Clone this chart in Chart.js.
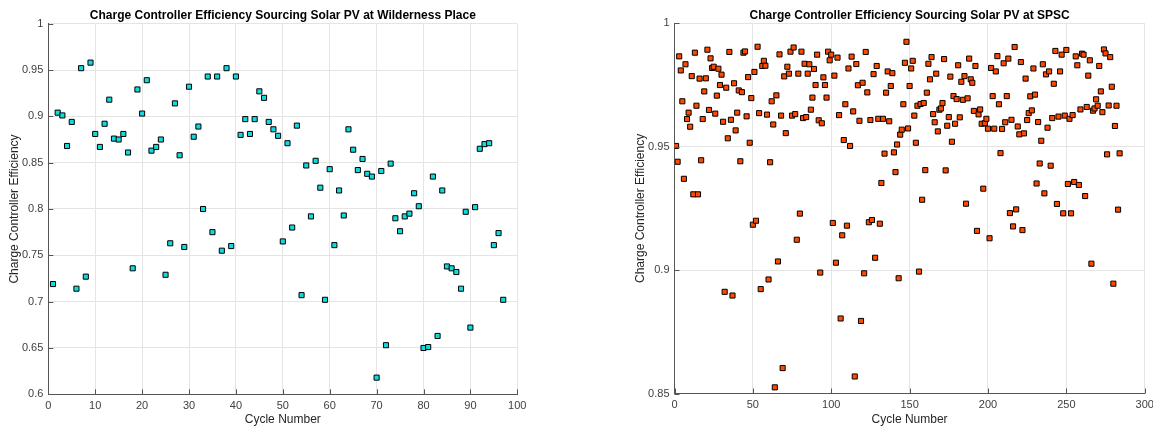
<!DOCTYPE html>
<html>
<head>
<meta charset="utf-8">
<script src="https://cdn.jsdelivr.net/npm/chart.js@4.4.1/dist/chart.umd.min.js"></script>
<style>
  html, body { margin: 0; padding: 0; background: #fff; overflow: hidden; width: 1153px; height: 427px; }
  .box { position: absolute; top: 0; height: 427px; }
  #leftBox { left: 0; width: 560px; }
  #rightBox { left: 620px; width: 550px; }
</style>
</head>
<body>
<div class="box" id="leftBox"><canvas id="chartWild"></canvas></div>
<div class="box" id="rightBox"><canvas id="chartSpsc"></canvas></div>
<script>
const wildTitle = 'Charge Controller Efficiency Sourcing Solar PV at Wilderness Place';
const spscTitle = 'Charge Controller Efficiency Sourcing Solar PV at SPSC';
const xLabel = 'Cycle Number';
const yLabel = 'Charge Controller Efficiency';

const wildCycles = [
  1,2,3,4,5,6,7,8,9,10,11,12,13,14,15,16,17,18,19,20,21,22,23,24,25,26,27,28,29,30,
  31,32,33,34,35,36,37,38,39,40,41,42,43,44,45,46,47,48,49,50,51,52,53,54,55,56,57,58,59,60,
  61,62,63,64,65,66,67,68,69,70,71,72,73,74,75,76,77,78,79,80,81,82,83,84,85,86,87,88,89,90,
  91,92,93,94,95,96,97
];
const wildEff = [
  0.719,0.904,0.901,0.868,0.894,0.714,0.952,0.727,0.958,0.881,
  0.867,0.892,0.918,0.876,0.875,0.881,0.861,0.736,0.929,0.903,
  0.939,0.863,0.867,0.875,0.729,0.763,0.914,0.858,0.759,0.932,
  0.878,0.889,0.800,0.943,0.775,0.943,0.755,0.952,0.760,0.943,
  0.880,0.897,0.881,0.897,0.927,0.920,0.894,0.886,0.879,0.765,
  0.871,0.780,0.890,0.707,0.847,0.792,0.852,0.823,0.702,0.843,
  0.761,0.820,0.793,0.886,0.864,0.842,0.854,0.838,0.835,0.618,
  0.841,0.653,0.849,0.790,0.776,0.792,0.795,0.817,0.803,0.650,
  0.651,0.835,0.663,0.820,0.738,0.736,0.732,0.714,0.797,0.672,
  0.802,0.865,0.870,0.871,0.761,0.774,0.702
];

const spscCycles = [
  1,2,3,4,5,6,7,8,9,10,11,12,13,14,15,16,17,18,19,20,21,22,23,24,25,26,27,28,29,30,
  31,32,33,34,35,36,37,38,39,40,41,42,43,44,45,46,47,48,49,50,51,52,53,54,55,56,57,58,59,60,
  61,62,63,64,65,66,67,68,69,70,71,72,73,74,75,76,77,78,79,80,81,82,83,84,85,86,87,88,89,90,
  91,92,93,94,95,96,97,98,99,100,101,102,103,104,105,106,107,108,109,110,111,112,113,114,115,116,117,118,119,120,
  121,122,123,124,125,126,127,128,129,130,131,132,133,134,135,136,137,138,139,140,141,142,143,144,145,146,147,148,149,150,
  151,152,153,154,155,156,157,158,159,160,161,162,163,164,165,166,167,168,169,170,171,172,173,174,175,176,177,178,179,180,
  181,182,183,184,185,186,187,188,189,190,191,192,193,194,195,196,197,198,199,200,201,202,203,204,205,206,207,208,209,210,
  211,212,213,214,215,216,217,218,219,220,221,222,223,224,225,226,227,228,229,230,231,232,233,234,235,236,237,238,239,240,
  241,242,243,244,245,246,247,248,249,250,251,252,253,254,255,256,257,258,259,260,261,262,263,264,265,266,267,268,269,270,
  271,272,273,274,275,276,277,278,279,280,281,282,283,284
];
const spscEff = [
  0.9503,0.9439,0.9866,0.9809,0.9684,0.9370,0.9834,0.9612,0.9638,0.9581,
  0.9786,0.9307,0.9881,0.9666,0.9307,0.9776,0.9445,0.9612,0.9724,0.9777,
  0.9893,0.9649,0.9858,0.9819,0.9824,0.9634,0.9707,0.9816,0.9750,0.9792,
  0.9601,0.8912,0.9739,0.9534,0.9884,0.9609,0.8897,0.9757,0.9566,0.9638,
  0.9728,0.9441,0.9721,0.9881,0.9886,0.9623,0.9782,0.9516,0.9697,0.9184,
  0.9803,0.9200,0.9905,0.9636,0.8923,0.9827,0.9848,0.9828,0.9630,0.8962,
  0.9437,0.9684,0.9590,0.8525,0.9708,0.9035,0.9874,0.9626,0.8603,0.9785,
  0.9555,0.9824,0.9796,0.9885,0.9626,0.9902,0.9632,0.9123,0.9796,0.9229,
  0.9885,0.9616,0.9836,0.9620,0.9796,0.9834,0.9650,0.9699,0.9815,0.9750,
  0.9873,0.9607,0.8990,0.9595,0.9781,0.9750,0.9699,0.9885,0.9850,0.9873,
  0.9191,0.9788,0.9030,0.9861,0.9628,0.8804,0.9141,0.9527,0.9672,0.9180,
  0.9817,0.9503,0.9865,0.9643,0.8569,0.9835,0.9749,0.9605,0.8794,0.9759,
  0.8987,0.9884,0.9720,0.9194,0.9608,0.9203,0.9794,0.9050,0.9827,0.9613,
  0.9188,0.9353,0.9613,0.9472,0.9719,0.9805,0.9603,0.9746,0.9798,0.9477,
  0.9397,0.9509,0.8967,0.9549,0.9569,0.9672,0.9840,0.9925,0.9574,0.9746,
  0.9817,0.9848,0.9626,0.9516,0.9666,0.8994,0.9673,0.9285,0.9677,0.9405,
  0.9719,0.9836,0.9773,0.9863,0.9632,0.9599,0.9796,0.9562,0.9650,0.9655,
  0.9677,0.9855,0.9404,0.9585,0.9620,0.9784,0.9520,0.9705,0.9593,0.9693,
  0.9830,0.9619,0.9763,0.9690,0.9786,0.9269,0.9696,0.9857,0.9773,0.9759,
  0.9645,0.9827,0.9159,0.9631,0.9651,0.9593,0.9330,0.9595,0.9613,0.9573,
  0.9129,0.9819,0.9705,0.9573,0.9805,0.9867,0.9672,0.9474,0.9572,0.9838,
  0.9599,0.9705,0.9857,0.9231,0.9609,0.9177,0.9904,0.9246,0.9582,0.9550,
  0.9843,0.9162,0.9554,0.9776,0.9608,0.9636,0.9704,0.9647,0.9817,0.9711,
  0.9351,0.9600,0.9432,0.9524,0.9834,0.9311,0.9793,0.9577,0.9805,0.9423,
  0.9616,0.9755,0.9888,0.9268,0.9622,0.9805,0.9873,0.9230,0.9626,0.9892,
  0.9349,0.9613,0.9230,0.9628,0.9357,0.9866,0.9830,0.9345,0.9651,0.9877,
  0.9873,0.9300,0.9661,0.9788,0.9850,0.9026,0.9646,0.9655,0.9692,0.9666,
  0.9827,0.9724,0.9640,0.9894,0.9878,0.9469,0.9667,0.9863,0.9743,0.8945,
  0.9584,0.9666,0.9245,0.9473
];

const wildXTicks = [0,10,20,30,40,50,60,70,80,90,100];
const wildYTicks = [0.6,0.65,0.7,0.75,0.8,0.85,0.9,0.95,1];
const spscXTicks = [0,50,100,150,200,250,300];
const spscYTicks = [0.85,0.9,0.95,1];

const FONT = '"Liberation Sans", Arial, Helvetica, sans-serif';
const AXIS = '#555555';
const GRID = '#e4e4e4';

// small inward tick marks, like the original plotting tool
const inwardTicks = {
  id: 'inwardTicks',
  afterDraw(chart) {
    const { ctx, chartArea, scales } = chart;
    ctx.save();
    ctx.strokeStyle = AXIS;
    ctx.lineWidth = 1;
    ctx.beginPath();
    scales.x.ticks.forEach(t => {
      const px = Math.round(scales.x.getPixelForValue(t.value)) + 0.5;
      ctx.moveTo(px, chartArea.bottom);
      ctx.lineTo(px, chartArea.bottom - 5);
    });
    scales.y.ticks.forEach(t => {
      const py = Math.round(scales.y.getPixelForValue(t.value)) + 0.5;
      ctx.moveTo(chartArea.left, py);
      ctx.lineTo(chartArea.left + 5, py);
    });
    ctx.stroke();
    ctx.restore();
  }
};

function makeChart(id, title, xs, ys, color, xTicks, yTicks, geom) {
  const points = xs.map((x, i) => ({ x: x, y: ys[i] }));
  return new Chart(document.getElementById(id), {
    type: 'scatter',
    data: { datasets: [{
      data: points,
      pointStyle: 'rect',
      pointRadius: 3.6,
      pointHoverRadius: 3.6,
      backgroundColor: color,
      borderColor: '#000',
      borderWidth: 1
    }]},
    plugins: [inwardTicks],
    options: {
      animation: false,
      responsive: true,
      maintainAspectRatio: false,
      layout: { padding: { left: 0, right: geom.padRight, top: 0, bottom: 0 } },
      plugins: {
        legend: { display: false },
        tooltip: { enabled: false },
        title: {
          display: true,
          text: title,
          fullSize: false,
          color: '#000',
          font: { family: FONT, size: 12, weight: 'bold', lineHeight: 1.2 },
          padding: { top: 8, bottom: geom.titleBottom }
        }
      },
      scales: {
        x: {
          type: 'linear',
          min: xTicks[0],
          max: xTicks[xTicks.length - 1],
          afterBuildTicks: s => { s.ticks = xTicks.map(v => ({ value: v })); },
          afterFit: s => { s.height = geom.xHeight; },
          ticks: {
            color: '#404040',
            padding: 5,
            font: { family: FONT, size: 11 },
            maxRotation: 0,
            callback: v => String(v)
          },
          grid: { color: GRID, drawTicks: false },
          border: { color: AXIS, width: 1 },
          title: {
            display: true,
            text: xLabel,
            color: '#262626',
            font: { family: FONT, size: 12, lineHeight: 1.2 },
            padding: { top: 0, bottom: 0 }
          }
        },
        y: {
          type: 'linear',
          min: yTicks[0],
          max: yTicks[yTicks.length - 1],
          afterBuildTicks: s => { s.ticks = yTicks.map(v => ({ value: v })); },
          afterFit: s => { s.width = geom.yWidth; },
          ticks: {
            color: '#404040',
            padding: 5,
            font: { family: FONT, size: 11 },
            callback: v => String(Math.round(v * 100) / 100)
          },
          grid: { color: GRID, drawTicks: false },
          border: { color: AXIS, width: 1 },
          title: {
            display: true,
            text: yLabel,
            color: '#262626',
            font: { family: FONT, size: 12, lineHeight: 1.2 },
            padding: { top: geom.yTitlePad, bottom: 0 }
          }
        }
      }
    }
  });
}

makeChart('chartWild', wildTitle, wildCycles, wildEff, '#12dbe0', wildXTicks, wildYTicks,
  { padRight: 42.7, titleBottom: 1.3, xHeight: 32.7, yWidth: 48.3, yTitlePad: 7 });
makeChart('chartSpsc', spscTitle, spscCycles, spscEff, '#ff4a00', spscXTicks, spscYTicks,
  { padRight: 25.3, titleBottom: 0.9, xHeight: 33.5, yWidth: 54.5, yTitlePad: 13 });
</script>
</body>
</html>
